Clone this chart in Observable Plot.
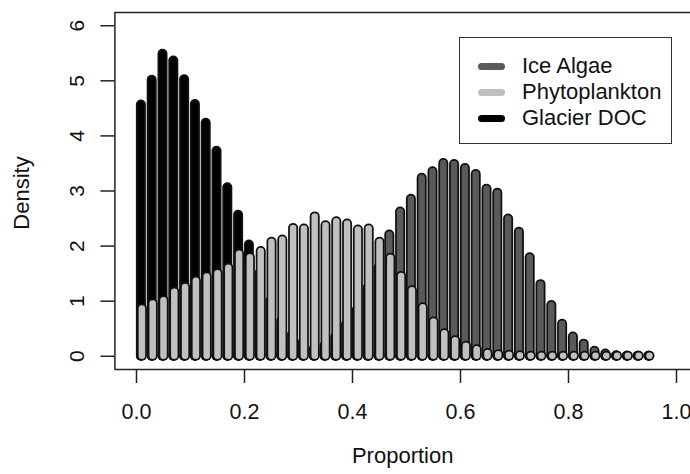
<!DOCTYPE html>
<html>
<head>
<meta charset="utf-8">
<script src="https://cdn.jsdelivr.net/npm/d3@7"></script>
<script src="https://cdn.jsdelivr.net/npm/@observablehq/plot@0.6"></script>
<style>
  html, body { margin: 0; padding: 0; background: white; overflow: hidden; }
  #wrap { position: relative; width: 690px; height: 474px; font-family: "Liberation Sans", Arial, sans-serif; }
  #legend { position: absolute; left: 459px; top: 37px; width: 211px; height: 105px; border: 1.5px solid #333; background: white; }
  .row { position: absolute; left: 0; height: 26px; display: flex; align-items: center; font-size: 22px; color: #111; }
  .sw { width: 27px; height: 7px; border-radius: 3.5px; margin-left: 18px; margin-right: 17px; }
</style>
</head>
<body>
<div id="wrap"></div>
<script>
const proportion = [0.01,0.03,0.05,0.07,0.09,0.11,0.13,0.15,0.17,0.19,0.21,0.23,0.25,0.27,0.29,0.31,0.33,0.35,0.37,0.39,0.41,0.43,0.45,0.47,0.49,0.51,0.53,0.55,0.57,0.59,0.61,0.63,0.65,0.67,0.69,0.71,0.73,0.75,0.77,0.79,0.81,0.83,0.85,0.87,0.89,0.91,0.93,0.95];
const glacierDOC = [4.56,5.01,5.48,5.36,5.02,4.57,4.23,3.72,3.06,2.56,2.02,1.50,1.00,0.63,0.39,0.25,0.12,0.06,0.03,0.01,0,0,0,0,0,0,0,0,0,0,0,0,0,0,0,0,0,0,0,0,0,0,0,0,0,0,0,0];
const iceAlgae = [0,0,0,0,0,0,0,0,0.01,0.01,0.01,0.02,0.02,0.03,0.05,0.08,0.12,0.18,0.34,0.57,0.84,1.24,1.60,2.20,2.62,2.85,3.23,3.35,3.50,3.48,3.41,3.30,3.03,2.96,2.49,2.25,1.79,1.30,0.92,0.58,0.35,0.22,0.09,0.04,0.01,0,0,0];
const phytoplankton = [0.86,0.95,1.01,1.16,1.25,1.36,1.44,1.50,1.60,1.85,1.79,1.90,2.07,2.11,2.32,2.31,2.53,2.37,2.44,2.40,2.29,2.31,2.07,1.78,1.45,1.19,0.88,0.62,0.41,0.28,0.18,0.12,0.05,0.03,0.02,0.01,0,0,0,0,0,0,0,0,0,0,0,0];

const seriesNames = ["Ice Algae", "Phytoplankton", "Glacier DOC"];
const seriesColors = ["#5a5a5a", "#c0c0c0", "#000000"];
const xTicks = [0, 0.2, 0.4, 0.6, 0.8, 1.0];
const yTicks = [0, 1, 2, 3, 4, 5, 6];
const xDomain = [-0.04, 1.04];
const yDomain = [-0.24, 6.24];

const mk = (vals) => proportion.map((p, i) => ({p, v: vals[i]}));
const glacier = mk(glacierDOC), ice = mk(iceAlgae), phyto = mk(phytoplankton);

function bars(data, color, dx) {
  return [
    Plot.ruleX(data, {x: "p", y1: 0, y2: "v", stroke: "#111", strokeWidth: 10, strokeLinecap: "round", dx}),
    Plot.ruleX(data, {x: "p", y1: 0, y2: "v", stroke: color, strokeWidth: 6.5, strokeLinecap: "round", dx})
  ];
}

const chart = Plot.plot({
  width: 690, height: 474,
  marginLeft: 114.4, marginRight: 0, marginTop: 12, marginBottom: 105,
  x: {domain: xDomain, range: [114.4, 697.6], axis: null},
  y: {domain: yDomain, axis: null},
  style: {fontFamily: "Liberation Sans, Arial, sans-serif", fontSize: "21px", color: "#111", background: "white", overflow: "hidden"},
  marks: [
    ...bars(glacier, seriesColors[2], -1),
    ...bars(ice, seriesColors[0], -1),
    ...bars(phyto, seriesColors[1], 0),
    Plot.ruleX([xDomain[0]], {stroke: "#222", strokeWidth: 1.5}),
    Plot.ruleY([yDomain[0], yDomain[1]], {stroke: "#222", strokeWidth: 1.5}),
    Plot.axisX({ticks: xTicks, anchor: "bottom", tickSize: 14, tickPadding: 20, tickFormat: d3.format(".1f"), fontSize: 21.5, strokeWidth: 1.5, stroke: "#222", label: null}),
    Plot.axisY({ticks: yTicks, anchor: "left", tickSize: 14, tickFormat: () => "", strokeWidth: 1.5, stroke: "#222", label: null}),
    Plot.text(yTicks, {y: d => d, text: d => String(d), frameAnchor: "left", dx: -37.4, rotate: -90, textAnchor: "middle", lineAnchor: "middle", fontSize: 21}),
    Plot.text(["Density"], {frameAnchor: "left", dx: -92.5, dy: 2, rotate: -90, textAnchor: "middle", lineAnchor: "middle", fontSize: 22}),
    Plot.text(["Proportion"], {frameAnchor: "bottom", dy: 86, textAnchor: "middle", lineAnchor: "middle", fontSize: 22})
  ]
});
const wrap = document.getElementById("wrap");
wrap.appendChild(chart);

const legend = document.createElement("div");
legend.id = "legend";
seriesNames.forEach((name, i) => {
  const row = document.createElement("div");
  row.className = "row";
  row.style.top = (15 + i * 26.2) + "px";
  const sw = document.createElement("div");
  sw.className = "sw";
  sw.style.background = seriesColors[i];
  const t = document.createElement("span");
  t.textContent = name;
  row.appendChild(sw);
  row.appendChild(t);
  legend.appendChild(row);
});
wrap.appendChild(legend);
</script>
</body>
</html>
